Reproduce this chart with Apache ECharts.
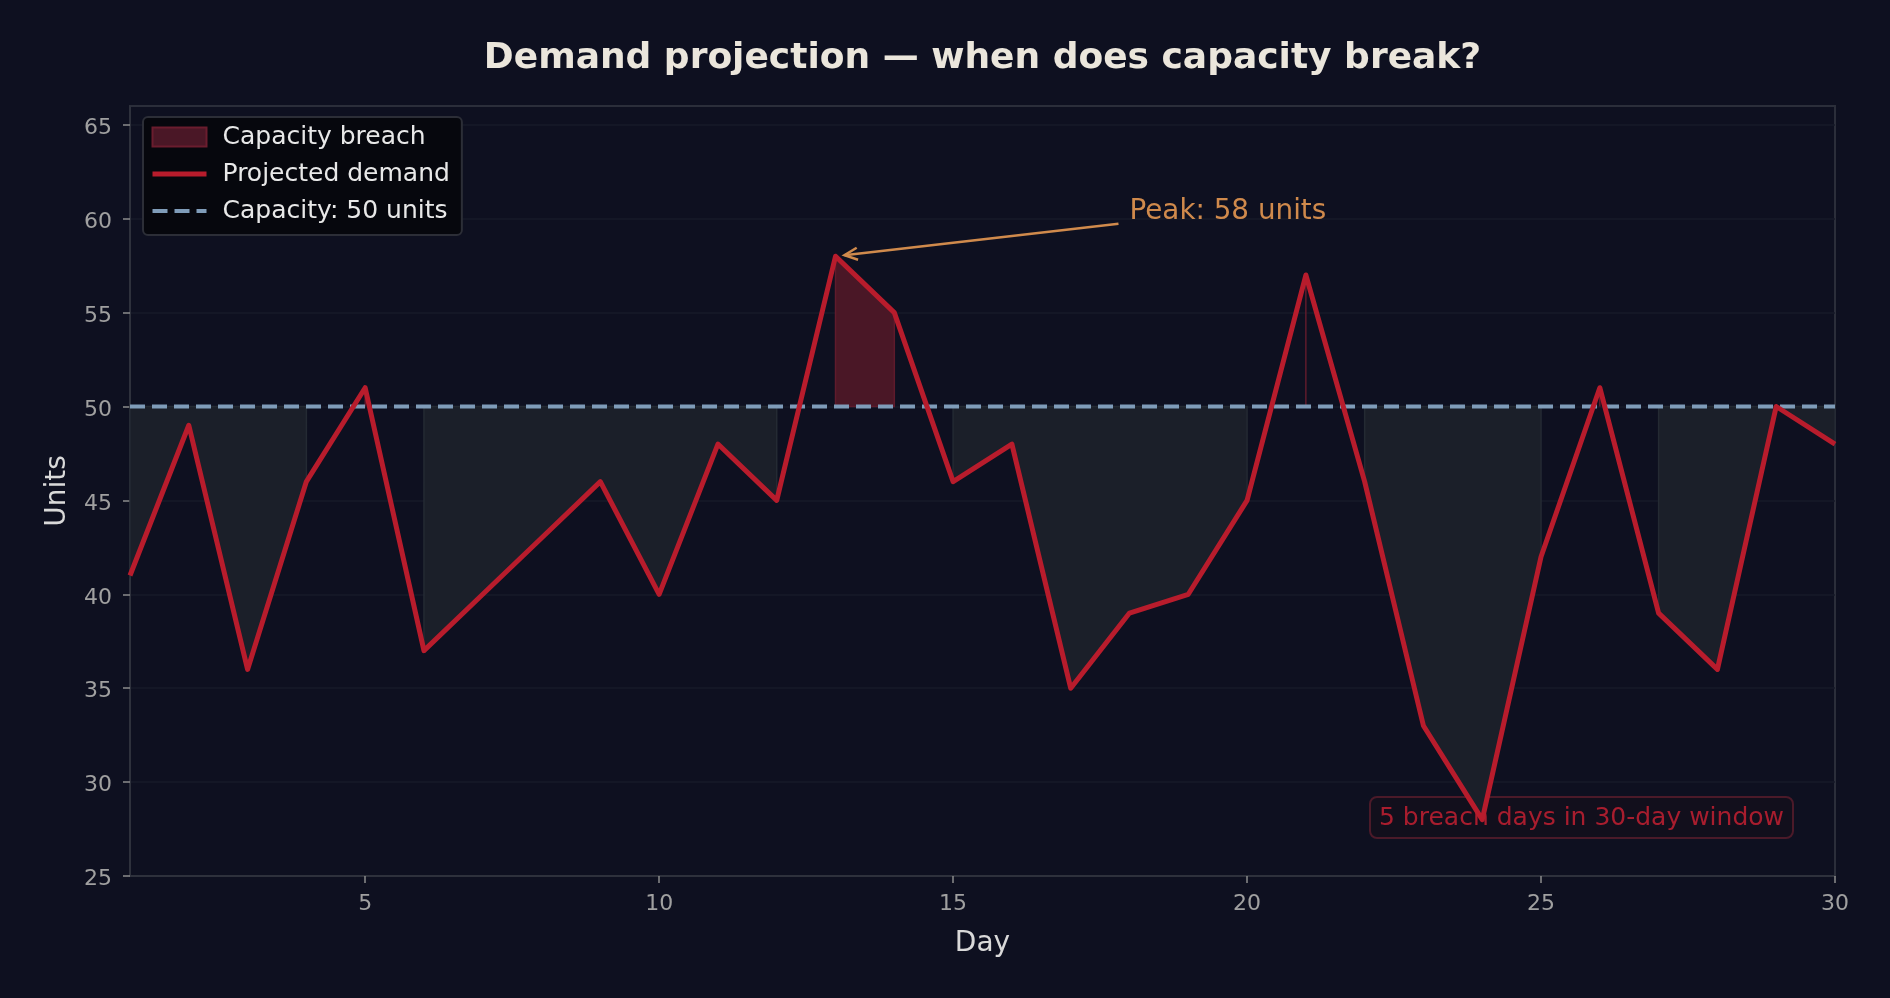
<!DOCTYPE html>
<html><head><meta charset="utf-8">
<script src="https://cdn.jsdelivr.net/npm/echarts@6/dist/echarts.min.js"></script>
<style>html,body{margin:0;padding:0;background:#0e1020;}#c{width:1890px;height:998px;}</style>
</head><body><div id="c"></div>
<script>
const days = [1,2,3,4,5,6,7,8,9,10,11,12,13,14,15,16,17,18,19,20,21,22,23,24,25,26,27,28,29,30];
const demand = [41,49,36,46,51,37,40,43,46,40,48,45,58,55,46,48,35,39,40,45,57,46,33,28,42,51,39,36,50,48];
const capacity = 50;
const xTicks = [5,10,15,20,25,30];
const yTicks = [25,30,35,40,45,50,55,60,65];
const peakLabelAt = [18, 60];

const FONT = '"DejaVu Sans", sans-serif';

function runs(pred){
  const out=[]; let s=-1;
  for(let i=0;i<demand.length;i++){
    if(pred(demand[i])){ if(s<0) s=i; }
    else if(s>=0){ out.push([s,i-1]); s=-1; }
  }
  if(s>=0) out.push([s,demand.length-1]);
  return out;
}
const breachRuns = runs(v=>v>capacity);
const surplusRuns = runs(v=>v<=capacity);
const breachDays = demand.filter(v=>v>capacity).length;
let peakIdx = 0; demand.forEach((v,i)=>{ if(v>demand[peakIdx]) peakIdx=i; });

function makeFill(runsArr, fill, stroke){
  return function(params, api){
    const r = runsArr[params.dataIndex];
    const pts=[api.coord([days[r[0]],capacity])];
    for(let i=r[0];i<=r[1];i++) pts.push(api.coord([days[i],demand[i]]));
    pts.push(api.coord([days[r[1]],capacity]));
    return {type:'polygon', shape:{points:pts}, style:{fill:fill, stroke:stroke, lineWidth:1.5}};
  };
}

const chart = echarts.init(document.getElementById('c'), null, {renderer:'canvas'});
const orange = '#d08a4c';
const red = '#b81c2c';
const blue = '#7f9cb9';
const capName = 'Capacity: '+capacity+' units';
chart.setOption({
  backgroundColor:'#0e1020',
  animation:false,
  grid:{left:130, right:55, top:106, bottom:122, show:true, borderColor:'#2b2e3a', borderWidth:2, backgroundColor:'#0e1020'},
  graphic:[
    {type:'text', x:982.5, y:59, style:{text:'Demand projection \u2014 when does capacity break?', font:'bold 36px '+FONT, fill:'#ebe6dc', align:'center', verticalAlign:'middle'}},
    {type:'rect', x:1370, y:797, shape:{width:423, height:41, r:7}, style:{fill:'rgba(22,14,26,0.55)', stroke:'#4b1a29', lineWidth:2}},
    {type:'text', x:1581.5, y:818, style:{text: breachDays+' breach days in '+days.length+'-day window', font:'25px '+FONT, fill:'#a81d2e', align:'center', verticalAlign:'middle'}}
  ],
  legend:{
    orient:'vertical', left:143, top:117, padding:[5,12,9,7],
    itemWidth:54, itemHeight:19, itemGap:7,
    backgroundColor:'#06070d', borderColor:'#2c2e37', borderWidth:2, borderRadius:5,
    textStyle:{color:'#e8e8e8', fontSize:25, fontFamily:FONT, lineHeight:30, padding:[0,0,0,11]},
    data:[
      {name:'Capacity breach', icon:'rect'},
      {name:'Projected demand', itemStyle:{opacity:0}, lineStyle:{color:red, width:5, type:'solid'}},
      {name:capName, itemStyle:{opacity:0}, lineStyle:{color:blue, width:4, type:[15,7]}}
    ]
  },
  xAxis:{
    type:'value', min:days[0], max:days[days.length-1],
    name:'Day', nameLocation:'middle', nameGap:54,
    nameTextStyle:{color:'#d9d9d9', fontSize:28, fontFamily:FONT},
    axisLine:{show:true, lineStyle:{color:'#2e313c', width:2}},
    axisTick:{show:true, length:7, lineStyle:{color:'#8c8c8c', width:1.5}, customValues:xTicks},
    axisLabel:{color:'#a0a0a0', fontSize:22, fontFamily:FONT, margin:17, customValues:xTicks},
    splitLine:{show:false}
  },
  yAxis:{
    type:'value', min:25, max:66, interval:5,
    name:'Units', nameLocation:'middle', nameGap:58,
    nameTextStyle:{color:'#d9d9d9', fontSize:28, fontFamily:FONT},
    axisLine:{show:true, lineStyle:{color:'#2e313c', width:2}},
    axisTick:{show:true, length:7, lineStyle:{color:'#8c8c8c', width:1.5}, customValues:yTicks},
    axisLabel:{color:'#a0a0a0', fontSize:22, fontFamily:FONT, margin:18, customValues:yTicks,
      formatter:function(v){ return '{a|'+v+'}'; },
      rich:{a:{color:'#a0a0a0', fontSize:22, fontFamily:FONT, padding:[7,0,0,0]}}},
    splitLine:{show:true, lineStyle:{color:'#171a28', width:1.5}}
  },
  series:[
    {type:'custom', name:'surplus', silent:true, z:2,
     data: surplusRuns.map(r=>[days[r[0]], capacity, days[r[1]]]), encode:{x:[0,2], y:1},
     renderItem: makeFill(surplusRuns, '#1b1f29', '#242a33')},
    {type:'custom', name:'Capacity breach', silent:true, z:2,
     itemStyle:{color:'#4a1726', borderColor:'#6a1d2e', borderWidth:1.5},
     data: breachRuns.map(r=>[days[r[0]], capacity, days[r[1]]]), encode:{x:[0,2], y:1},
     renderItem: makeFill(breachRuns, '#4a1726', '#5e1b2c')},
    {type:'line', name:capName, z:3, symbol:'none', silent:true,
     data:[[days[0],capacity],[days[days.length-1],capacity]],
     lineStyle:{color:blue, width:4, type:[15,7]}, itemStyle:{color:blue}},
    {type:'line', name:'Projected demand', z:4, symbol:'none', silent:true,
     data: days.map((d,i)=>[d,demand[i]]),
     lineStyle:{color:red, width:5, join:'round'}, itemStyle:{color:red}},
    {type:'custom', name:'annot', silent:true, z:5,
     data:[[days[peakIdx], demand[peakIdx], peakLabelAt[0], peakLabelAt[1]]], encode:{x:[0,2], y:[1,3]},
     renderItem:function(params, api){
       const pt = api.coord([api.value(0), api.value(1)]);
       const tp = api.coord([api.value(2), api.value(3)]);
       const st = [tp[0]-11, tp[1]+5];
       let dx = pt[0]-st[0], dy = pt[1]-st[1]; const L = Math.hypot(dx,dy); dx/=L; dy/=L;
       const en = [pt[0]-dx*9, pt[1]-dy*9];
       const hl = 13, hw = 6;
       const bx = en[0]-dx*hl, by = en[1]-dy*hl;
       const h1 = [bx - dy*hw, by + dx*hw], h2 = [bx + dy*hw, by - dx*hw];
       return {type:'group', children:[
         {type:'line', shape:{x1:st[0], y1:st[1], x2:en[0], y2:en[1]}, style:{stroke:orange, lineWidth:2.5}},
         {type:'polyline', shape:{points:[h1, en, h2]}, style:{stroke:orange, lineWidth:2.5, fill:null}},
         {type:'text', x:tp[0], y:tp[1]-7, style:{text:'Peak: '+demand[peakIdx]+' units', font:'27.8px '+FONT, fill:orange, align:'left', verticalAlign:'middle'}}
       ]};
     }}
  ]
});
</script>
</body></html>
